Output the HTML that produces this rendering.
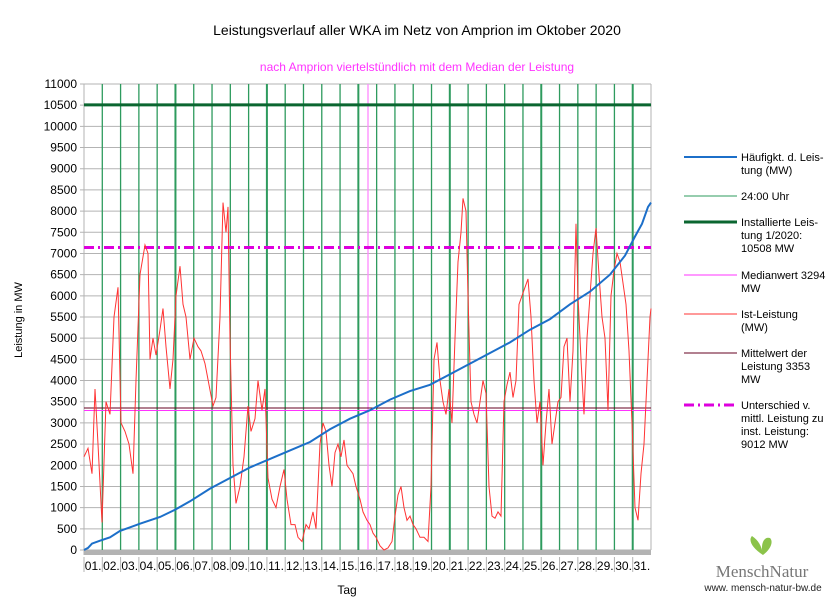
<!DOCTYPE html>
<html><head><meta charset="utf-8"><style>
body{margin:0;background:#fff;}
svg{font-family:"Liberation Sans",sans-serif;}
</style></head><body>
<svg id="s" width="834" height="600" xmlns="http://www.w3.org/2000/svg">
<rect width="834" height="600" fill="#fff"/>
<text x="417" y="35" font-size="14" text-anchor="middle" fill="#000">Leistungsverlauf aller WKA im Netz von Amprion im Oktober 2020</text>
<text x="417" y="71" font-size="12" text-anchor="middle" fill="#ff33ff">nach Amprion viertelstündlich mit dem Median der Leistung</text>
<g id="grid"></g>
<text x="22" y="320" font-size="11" transform="rotate(-90 22 320)" text-anchor="middle">Leistung in MW</text>
<text x="347" y="594" font-size="12" text-anchor="middle">Tag</text>
<g font-size="11">
<line x1="684" y1="157" x2="737" y2="157" stroke="#1c6fc9" stroke-width="2"/>
<text x="741" y="161">Häufigkt. d. Leis-</text><text x="741" y="174">tung (MW)</text>
<line x1="684" y1="196" x2="737" y2="196" stroke="#2e9b5e" stroke-width="1"/>
<text x="741" y="200">24:00 Uhr</text>
<line x1="684" y1="222" x2="737" y2="222" stroke="#0b6630" stroke-width="3"/>
<text x="741" y="226">Installierte Leis-</text><text x="741" y="239">tung 1/2020:</text><text x="741" y="252">10508 MW</text>
<line x1="684" y1="275" x2="737" y2="275" stroke="#ff33ff" stroke-width="1"/>
<text x="741" y="279">Medianwert 3294</text><text x="741" y="292">MW</text>
<line x1="684" y1="314" x2="737" y2="314" stroke="#ff3333" stroke-width="1"/>
<text x="741" y="318">Ist-Leistung</text><text x="741" y="331">(MW)</text>
<line x1="684" y1="353" x2="737" y2="353" stroke="#660022" stroke-width="1"/>
<text x="741" y="357">Mittelwert der</text><text x="741" y="370">Leistung 3353</text><text x="741" y="383">MW</text>
<line x1="684" y1="405" x2="737" y2="405" stroke="#dd00dd" stroke-width="3" stroke-dasharray="10,4,2,4"/>
<text x="741" y="409">Unterschied v.</text><text x="741" y="422">mittl. Leistung zu</text><text x="741" y="435">inst. Leistung:</text><text x="741" y="448">9012 MW</text>
</g>
<path d="M763 555 C752 548 748 540 752 536 C758 540 762 546 763 555 Z M763 555 C760 544 764 536 770 538 C774 542 770 550 763 555 Z" fill="#8bc34a"/>
<text x="762" y="577" font-size="17" text-anchor="middle" fill="#777" font-family="Liberation Serif,serif">MenschNatur</text>
<text x="763" y="591" font-size="10" text-anchor="middle" fill="#222">www. mensch-natur-bw.de</text>
</svg>
<script>
var ns="http://www.w3.org/2000/svg",g=document.getElementById("grid");
function el(t,a,txt){var e=document.createElementNS(ns,t);for(var k in a)e.setAttribute(k,a[k]);if(txt!==undefined)e.textContent=txt;g.appendChild(e);return e;}
var X0=84,X1=651,Y0=550,Y1=84;function Y(v){return Y0-(v/11000)*(Y0-Y1);}
for(var v=0;v<=11000;v+=500){var y=Y(v);el("line",{x1:X0-4,y1:y,x2:X1,y2:y,stroke:"#b3b3b3","stroke-width":1});el("text",{x:77,y:y+4,"font-size":12,"text-anchor":"end",fill:"#000"},v);}
el("line",{x1:X0,y1:Y1,x2:X0,y2:Y0+5,stroke:"#b3b3b3"});el("line",{x1:X1,y1:Y1,x2:X1,y2:Y0,stroke:"#b3b3b3"});
var dw=(X1-X0)/31;
for(var d=1;d<31;d++){var x=X0+d*dw;el("line",{x1:x,y1:Y1,x2:x,y2:Y0,stroke:"#2e9b5e","stroke-width":(d%5==0?2:1.3)});}
for(var d=0;d<31;d++){var x=X0+d*dw;el("text",{x:x+dw/2,y:570,"font-size":12,"text-anchor":"middle",fill:"#000"},(d<9?"0":"")+(d+1)+".");el("line",{x1:x,y1:557,x2:x,y2:572,stroke:"#b3b3b3"});}
el("rect",{x:X0,y:Y0,width:X1-X0,height:5,fill:"#b3b3b3"});
el("line",{x1:368,y1:Y1,x2:368,y2:Y0,stroke:"#ff88ff","stroke-width":1.3});
el("line",{x1:X0,y1:Y(10508),x2:X1,y2:Y(10508),stroke:"#0b6630","stroke-width":3});
el("line",{x1:X0,y1:Y(3294),x2:X1,y2:Y(3294),stroke:"#ff33ff","stroke-width":1});
el("line",{x1:X0,y1:Y(3353),x2:X1,y2:Y(3353),stroke:"#660022","stroke-width":1});
el("line",{x1:X0,y1:Y(7140),x2:X1,y2:Y(7140),stroke:"#dd00dd","stroke-width":3,"stroke-dasharray":"10,4,2,4"});
var r=[84,2200,88,2400,92,1800,95,3800,98,2500,102,650,106,3500,110,3200,114,5500,118,6200,121,3000,125,2800,129,2500,133,1800,136,4000,140,6500,145,7200,148,7000,150,4500,153,5000,156,4600,160,5200,163,5700,166,4800,170,3800,173,4500,176,6000,180,6700,183,5800,186,5500,190,4500,194,5000,198,4800,201,4700,205,4400,209,3900,213,3400,216,3600,220,5500,223,8200,226,7500,228,8100,230,5000,233,2000,236,1100,240,1500,244,2200,248,3400,251,2800,255,3100,258,4000,262,3300,265,3800,268,1700,272,1200,276,1000,280,1500,284,1900,287,1200,291,600,295,600,298,300,302,200,306,600,309,500,313,900,316,500,320,2500,323,3000,326,2800,329,2000,332,1500,335,2300,338,2500,341,2200,344,2600,347,2000,350,1900,353,1800,356,1500,360,1200,363,900,367,700,370,600,373,400,376,300,380,100,384,0,388,50,392,200,395,800,398,1300,401,1500,404,1000,407,700,410,800,413,600,416,500,420,300,424,300,428,200,431,1500,434,4500,437,4900,440,4000,443,3500,446,3200,449,3800,452,3000,455,5000,458,6800,461,7500,463,8300,466,8000,468,6000,471,3500,474,3200,477,3000,480,3500,483,4000,486,3700,489,1500,492,800,495,750,498,900,501,800,504,3500,507,3900,510,4200,513,3600,516,4000,519,5800,522,6000,525,6200,528,6400,531,5500,534,4000,537,3000,540,3500,543,2000,546,3000,549,3800,552,2500,555,3000,558,3500,561,3600,564,4800,567,5000,570,3500,573,4700,576,7700,578,6000,581,4500,584,3200,587,5000,590,6000,593,7000,596,7600,599,6500,602,5500,605,5000,608,3300,611,6000,614,6600,617,7000,620,6800,623,6300,626,5800,629,4700,632,3000,635,1000,638,700,641,1800,644,2500,647,4000,650,5500,651,5700];
var b=[84,0,88,50,92,150,100,220,110,300,120,450,140,620,160,780,175,950,190,1150,210,1450,230,1700,250,1950,270,2150,290,2350,310,2550,330,2850,350,3100,370,3300,390,3550,410,3750,430,3900,450,4150,470,4400,490,4650,510,4900,530,5200,550,5450,570,5800,590,6100,610,6500,625,6950,635,7400,642,7700,648,8100,651,8200];
function pts(a){var s="";for(var i=0;i<a.length;i+=2)s+=a[i]+","+Y(a[i+1]).toFixed(1)+" ";return s;}
el("polyline",{points:pts(r),fill:"none",stroke:"#ff3333","stroke-width":1});
el("polyline",{points:pts(b),fill:"none",stroke:"#1c6fc9","stroke-width":2});
</script>
</body></html>
